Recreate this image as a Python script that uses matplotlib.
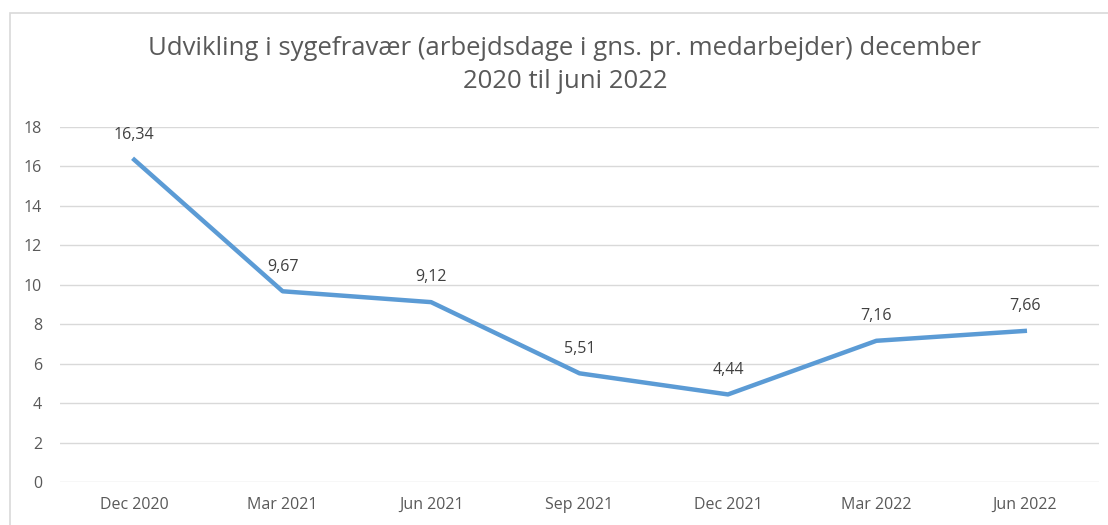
import matplotlib.pyplot as plt
from matplotlib.patches import Rectangle

# Data
quarters = ['Dec 2020', 'Mar 2021', 'Jun 2021', 'Sep 2021', 'Dec 2021', 'Mar 2022', 'Jun 2022']
fravaer = [16.34, 9.67, 9.12, 5.51, 4.44, 7.16, 7.66]
labels = ['16,34', '9,67', '9,12', '5,51', '4,44', '7,16', '7,66']
yticks = [0, 2, 4, 6, 8, 10, 12, 14, 16, 18]

grey = '#595959'
plt.rcParams['font.family'] = ['Open Sans', 'DejaVu Sans']

W, H = 1108, 525
fig = plt.figure(figsize=(W / 100, H / 100), dpi=100)
ax = fig.add_axes([60 / W, (H - 482) / H, (1099 - 60) / W, (482 - 127) / H])

# chart border (left and top edges visible)
fig.patches.append(Rectangle((10 / W, -0.1), 1.2, (H - 13) / H + 0.1, transform=fig.transFigure,
                             fill=False, edgecolor='#D9D9D9', linewidth=1.2))

x = list(range(len(quarters)))
ax.plot(x, fravaer, color='#5B9BD5', linewidth=3.2, solid_joinstyle='round', zorder=3)

for xi, v, lab in zip(x, fravaer, labels):
    ax.annotate(lab, (xi, v), xytext=(0, 12), textcoords='offset points',
                ha='center', va='bottom', fontsize=11.5, color='#404040')

ax.set_xlim(-0.5, len(quarters) - 0.5)
ax.set_ylim(0, 18)
ax.set_yticks(yticks)
ax.set_xticks(x)
ax.set_xticklabels(quarters)
ax.yaxis.grid(True, color='#D9D9D9', linewidth=1)
ax.set_axisbelow(True)
for s in ax.spines.values():
    s.set_visible(False)
ax.tick_params(axis='both', length=0, labelsize=11.5, labelcolor=grey)
ax.tick_params(axis='x', pad=11)
ax.tick_params(axis='y', pad=13)

fig.text(565 / W, 1 - 65 / H, 'Udvikling i sygefravær (arbejdsdage i gns. pr. medarbejder) december\n2020 til juni 2022',
         ha='center', va='center', fontsize=18.5, color=grey, linespacing=1.4)

fig.savefig('out.png', dpi=100, facecolor='white')
